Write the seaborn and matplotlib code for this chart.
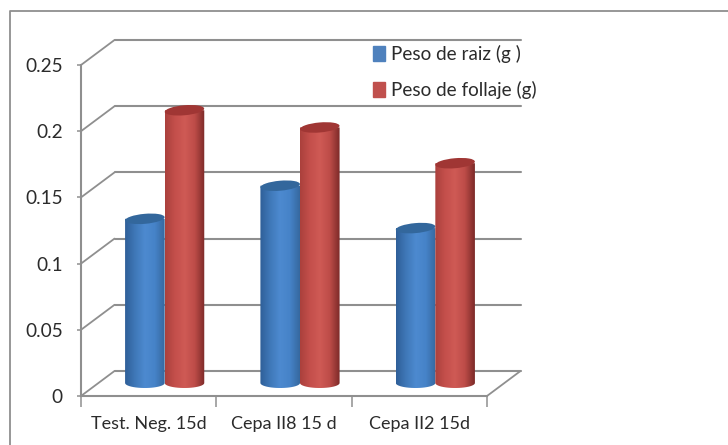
import numpy as np
import pandas as pd
import matplotlib
matplotlib.use("Agg")
import matplotlib.pyplot as plt
import seaborn as sns
from matplotlib.colors import LinearSegmentedColormap
from matplotlib.lines import Line2D
from matplotlib.patches import Ellipse
from matplotlib.path import Path
from matplotlib.transforms import IdentityTransform

categories = ["Test. Neg. 15d", "Cepa II8 15 d", "Cepa II2 15d"]
series_names = ["Peso de raiz (g )", "Peso de follaje (g)"]
peso_raiz = [0.124, 0.149, 0.117]
peso_follaje = [0.206, 0.193, 0.166]
y_ticks = [0, 0.05, 0.1, 0.15, 0.2, 0.25]
y_labels = ["0", "0.05", "0.1", "0.15", "0.2", "0.25"]

legend_colors = ["#4f81bd", "#c0504d"]
shades = [
    ["#2f5f98", "#3f78b8", "#4d8ad0", "#4683c8", "#36689f"],
    ["#aa403c", "#c44f4b", "#cf5a55", "#bd4c48", "#7c2a28"],
]
lid_colors = ["#33679c", "#a03634"]
axis_color = "#8f8f8f"
text_color = "#2b2b2b"

sns.set_theme(style="white")
plt.rcParams["font.family"] = ["Lato", "DejaVu Sans"]

W, H = 728, 445
fig = plt.figure(figsize=(W / 100, H / 100), dpi=100, facecolor="white")
ax = fig.add_axes([81 / W, (H - 396) / H, 406 / W, 331 / H])
ax.patch.set_alpha(0)

table = pd.DataFrame({
    "categoria": categories * 2,
    "serie": np.repeat(series_names, len(categories)),
    "peso": peso_raiz + peso_follaje,
})
sns.barplot(data=table, x="categoria", y="peso", hue="serie", hue_order=series_names,
            palette=legend_colors, saturation=1, width=0.585, gap=0, ax=ax, zorder=5)
ax.set_xlim(-0.5, 2.5)
ax.set_ylim(0, 0.25)
ax.set_xlabel("")
ax.set_ylabel("")

# Axis furniture: front axes, ticks and labels
boundaries = np.arange(len(categories) + 1) - 0.5
ax.set_xticks(boundaries)
ax.set_xticklabels([])
ax.set_xticks(np.arange(len(categories)), labels=categories, minor=True)
ax.set_yticks(y_ticks, labels=y_labels)
ax.tick_params(axis="x", which="major", length=8, width=1.1, color=axis_color, bottom=True)
ax.tick_params(axis="x", which="minor", length=0, pad=14.5, labelsize=13, labelcolor=text_color)
ax.tick_params(axis="y", length=3, width=1.1, color=axis_color, left=True, pad=10,
               labelsize=13.7, labelcolor=text_color)
for side, spine in ax.spines.items():
    spine.set_visible(side in ("left", "bottom"))
    spine.set_color(axis_color)
    spine.set_linewidth(1.5)

# Receding wall and floor: lines shifted from the front plane by the depth offset
DEPTH = (33.5, 25)
screen = IdentityTransform()
to_px = ax.transData.transform
for v in y_ticks:
    x0, y0 = to_px((-0.5, v))
    x1, _ = to_px((2.5, v))
    ax.add_line(Line2D([x0 + DEPTH[0], x1 + DEPTH[0]], [y0 + DEPTH[1]] * 2, transform=screen,
                       color=axis_color, lw=1.5, zorder=1, clip_on=False))
    ax.add_line(Line2D([x0, x0 + DEPTH[0]], [y0, y0 + DEPTH[1]], transform=screen,
                       color=axis_color, lw=1.3, zorder=1, clip_on=False))
fx, fy = to_px((2.5, 0))
ax.add_line(Line2D([fx, fx + DEPTH[0]], [fy, fy + DEPTH[1]], transform=screen,
                   color=axis_color, lw=1.3, zorder=1, clip_on=False))

# Cylinders: each seaborn bar gets a shaded body and a darker elliptical lid
BAR_SHIFT = (16, 13)
LID_HALF = 5.0
for idx, container in enumerate(ax.containers):
    cmap = LinearSegmentedColormap.from_list(f"cyl{idx}", shades[idx])
    ramp = np.linspace(0, 1, 128).reshape(1, -1)
    for n, bar in enumerate(container):
        (xa, ya), (xb, yb) = to_px([(bar.get_x(), 0), (bar.get_x() + bar.get_width(), bar.get_height())])
        xa, xb = xa + BAR_SHIFT[0], xb + BAR_SHIFT[0]
        ya, yb = ya + BAR_SHIFT[1], yb + BAR_SHIFT[1]
        bar.set_visible(False)
        z = 5 + idx + n * 0.1
        theta = np.linspace(np.pi, 2 * np.pi, 24)
        cx, rx = (xa + xb) / 2, (xb - xa) / 2
        lower = np.column_stack([cx + rx * np.cos(theta), ya + LID_HALF * np.sin(theta)])
        outline = np.vstack([[[xa, yb]], lower, [[xb, yb]], [[xa, yb]]])
        body = ax.imshow(ramp, extent=(xa, xb, ya - LID_HALF - 1, yb + 1), transform=screen,
                         aspect="auto", cmap=cmap, zorder=z, interpolation="bilinear")
        body.set_clip_path(Path(outline), screen)
        lid = Ellipse((cx, yb), xb - xa, 2 * LID_HALF, angle=5, transform=screen,
                      facecolor=lid_colors[idx], edgecolor="none", zorder=z + 0.01, clip_on=False)
        ax.add_patch(lid)
ax.set_xlim(-0.5, 2.5)
ax.set_ylim(0, 0.25)

# Legend with flat swatches
handles = [plt.Rectangle((0, 0), 1, 1, color=c) for c in legend_colors]
ax.legend(handles, series_names, loc="upper left", bbox_to_anchor=(373.5 / W, (H - 45) / H),
          bbox_transform=fig.transFigure, frameon=False, fontsize=13.6, labelcolor=text_color,
          handlelength=0.6, handleheight=0.8, handletextpad=0.32, labelspacing=0.95,
          borderpad=0, borderaxespad=0)

# Outer chart frame, running off the bottom and right of the canvas
fig.add_artist(Line2D([10 / W, 10 / W, 1], [0, (H - 11) / H, (H - 11) / H],
                      transform=fig.transFigure, color="#8f8f8f", lw=1.3))

fig.savefig("out.png", dpi=100, facecolor="white")
